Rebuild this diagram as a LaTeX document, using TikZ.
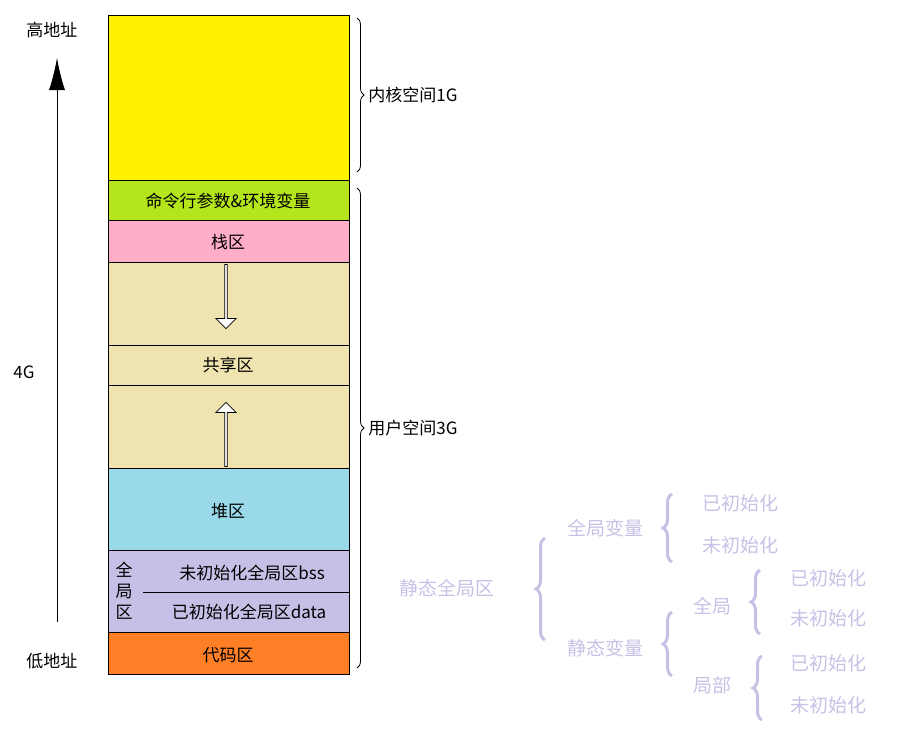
\documentclass[tikz,border=0pt]{standalone}
\usepackage{fontspec}
\setmainfont{Noto Sans CJK SC}
\usetikzlibrary{positioning,calc,decorations.pathreplacing,shapes.arrows,arrows.meta}
\definecolor{kyellow}{HTML}{FFF200}
\definecolor{kgreen}{HTML}{B5E61D}
\definecolor{kpink}{HTML}{FFAEC9}
\definecolor{kbeige}{HTML}{EFE4B0}
\definecolor{kblue}{HTML}{99D9EA}
\definecolor{klav}{HTML}{C8BFE7}
\definecolor{korange}{HTML}{FF7F27}
\definecolor{ktree}{HTML}{C9C0E6}
\begin{document}
\begin{tikzpicture}[x=1pt, y=-1pt, font=\fontsize{17}{20}\selectfont]
    \tikzstyle{seg}=[draw=black, thick]
    \tikzstyle{lbl}=[inner sep=1pt]
    \tikzstyle{treetxt}=[text=ktree, font=\fontsize{19}{22}\selectfont, inner sep=1pt]
    \tikzstyle{brc}=[decorate, decoration={brace, amplitude=7pt}, thick]
    \tikzstyle{tbrc}=[decorate, decoration={brace, amplitude=9pt}, line width=3pt, draw=ktree]
    \tikzstyle{hollow}=[single arrow, draw=black, fill=white, minimum width=20, single arrow head extend=3, minimum height=64, inner sep=0pt, thick]
    \useasboundingbox (0,0) rectangle (919,737);

    % memory column
    \fill[kyellow] (108,15) rectangle (349,180);
    \fill[kgreen]  (108,180) rectangle (349,220);
    \fill[kpink]   (108,220) rectangle (349,262);
    \fill[kbeige]  (108,262) rectangle (349,468);
    \fill[kblue]   (108,468) rectangle (349,550);
    \fill[klav]    (108,550) rectangle (349,632);
    \fill[korange] (108,632) rectangle (349,674);
    \draw[seg] (108,15) rectangle (349,674);
    \foreach \yy in {180,220,262,345,385,468,550,632}
        \draw[seg] (108,\yy) -- (349,\yy);
    \draw[thick] (143,592) -- (349,592);

    \node[lbl] (args)  at (228,201) {命令行参数\&环境变量};
    \node[lbl] (stack) at (228,242) {栈区};
    \node[lbl] (share) at (228,365) {共享区};
    \node[lbl] (heap)  at (228,511) {堆区};
    \node[lbl] (bss)   at (252,573) {未初始化全局区bss};
    \node[lbl] (data)  at (249,612) {已初始化全局区data};
    \node[lbl] (code)  at (228,655) {代码区};
    \node[lbl, align=center, font=\fontsize{17}{21}\selectfont] (glob) at (124,591) {全\\局\\区};
    \node[hollow, rotate=-90] (down) at (226,296) {};
    \node[hollow, rotate=90]  (up)   at (226,435) {};

    % address axis
    \node[lbl] (high) at (52,30)  {高地址};
    \node[lbl] (size) at (24,372) {4G};
    \node[lbl] (low)  at (52,661) {低地址};
    \coordinate (axisbot) at (57,622);
    \coordinate (axistop) at (57,58);
    \draw[-{Latex[length=32pt,width=16pt]}, thick] (axisbot) -- (axistop);

    % space braces
    \draw[brc] (357,18) -- (357,172) node[midway, right=10pt, lbl] (kern) {内核空间1G};
    \draw[brc] (357,188) -- (357,668) node[midway, right=10pt, lbl] (user) {用户空间3G};

    % static area tree
    \node[treetxt] (stat)  at (447,588) {静态全局区};
    \node[treetxt] (gvar)  at (605,528) {全局变量};
    \node[treetxt] (svar)  at (605,648) {静态变量};
    \node[treetxt] (g1)    at (740,503) {已初始化};
    \node[treetxt] (g2)    at (740,545) {未初始化};
    \node[treetxt] (sg)    at (712,606) {全局};
    \node[treetxt] (sl)    at (712,685) {局部};
    \node[treetxt] (sg1)   at (828,578) {已初始化};
    \node[treetxt] (sg2)   at (828,618) {未初始化};
    \node[treetxt] (sl1)   at (828,663) {已初始化};
    \node[treetxt] (sl2)   at (828,705) {未初始化};
    \draw[tbrc] (545,640) -- (545,538);
    \draw[tbrc] (672,562) -- (672,494);
    \draw[tbrc] (672,676) -- (672,612);
    \draw[tbrc] (760,634) -- (760,570);
    \draw[tbrc] (762,720) -- (762,656);
\end{tikzpicture}
\end{document}
